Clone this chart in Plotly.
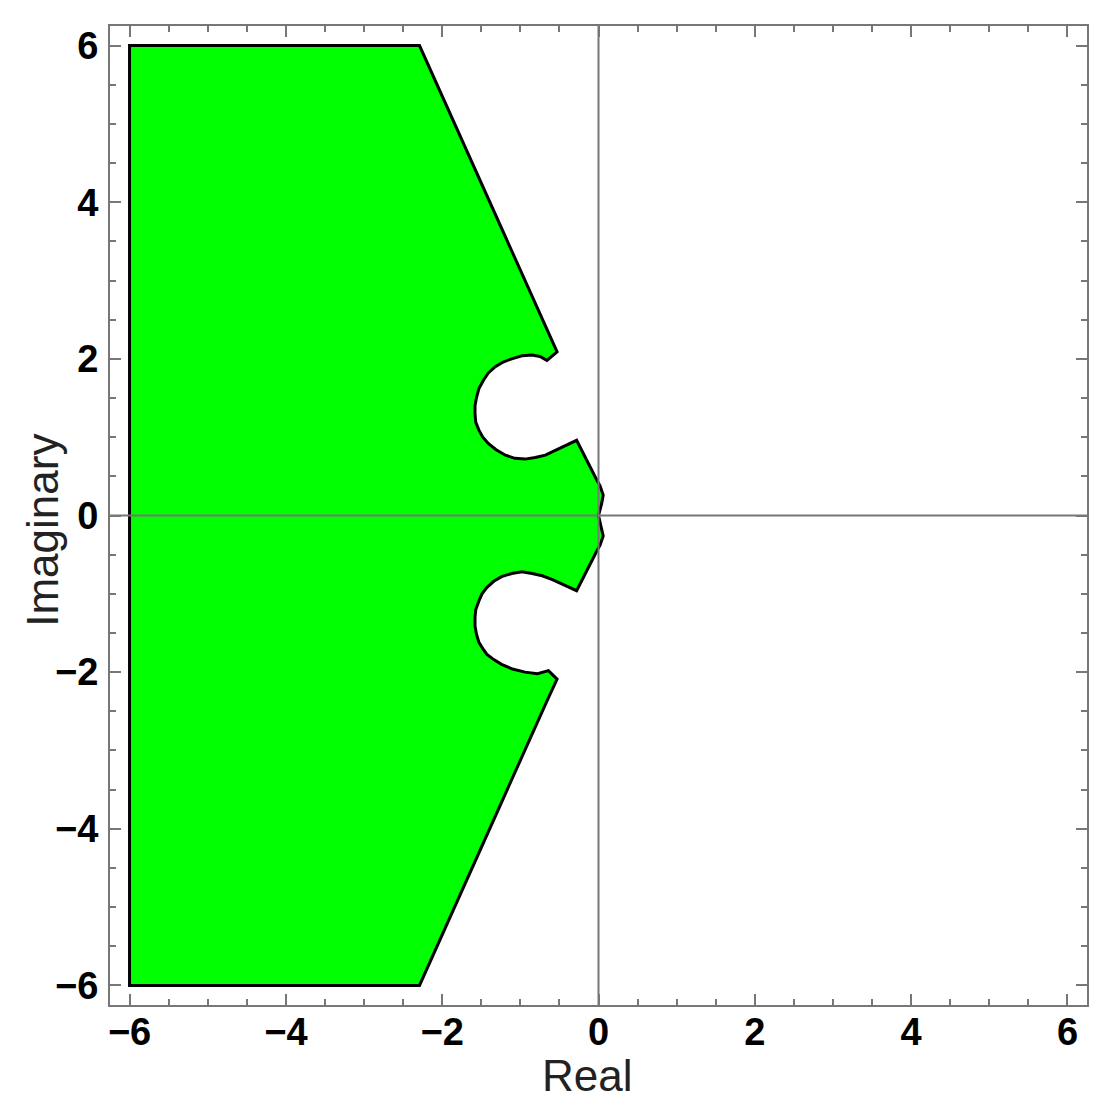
import plotly.graph_objects as go

# boundary of the shaded region (upper part, top-left corner -> origin)
upper_x = [-6.0, -6.0, -2.29, -0.66, -0.53, -0.66, -0.75, -0.85, -0.98, -1.11, -1.22, -1.32,
           -1.41, -1.47, -1.53, -1.56, -1.58, -1.58, -1.57, -1.53, -1.48, -1.41, -1.31, -1.19,
           -1.07, -0.94, -0.81, -0.68, -0.57, -0.47, -0.37, -0.28, -0.02, 0.02, 0.06, 0.04, 0.0]
upper_y = [0.0, 6.0, 6.0, 2.37, 2.09, 1.98, 2.03, 2.05, 2.04, 2.00, 1.96, 1.90,
           1.82, 1.73, 1.62, 1.51, 1.40, 1.30, 1.19, 1.09, 1.00, 0.92, 0.84, 0.77,
           0.73, 0.72, 0.74, 0.77, 0.82, 0.87, 0.92, 0.96, 0.45, 0.38, 0.26, 0.15, 0.0]

# lower part, origin -> bottom-left corner
lower_x = [0.04, 0.06, 0.02, -0.02, -0.28, -0.37, -0.47, -0.59, -0.72, -0.85, -0.98, -1.11,
           -1.24, -1.34, -1.43, -1.49, -1.53, -1.57, -1.58, -1.58, -1.56, -1.53, -1.48, -1.43,
           -1.34, -1.24, -1.10, -0.94, -0.78, -0.64, -0.53, -0.66, -2.29, -6.0, -6.0]
lower_y = [-0.15, -0.26, -0.38, -0.45, -0.96, -0.92, -0.87, -0.82, -0.77, -0.74, -0.72, -0.74,
           -0.78, -0.84, -0.92, -1.00, -1.09, -1.20, -1.30, -1.41, -1.52, -1.62, -1.70, -1.77,
           -1.84, -1.90, -1.96, -2.00, -2.02, -1.98, -2.09, -2.37, -6.0, -6.0, 0.0]

x_ticks = [-6, -4, -2, 0, 2, 4, 6]
y_ticks = [-6, -4, -2, 0, 2, 4, 6]

GRAY = '#777777'

fig = go.Figure()

fig.add_trace(go.Scatter(
    x=upper_x + lower_x,
    y=upper_y + lower_y,
    mode='lines',
    fill='toself',
    fillcolor='#00FF00',
    line=dict(color='black', width=3),
    hoverinfo='skip',
    showlegend=False
))

# axes through the origin, drawn over the fill
fig.add_shape(type='line', xref='paper', yref='y', x0=0, x1=1, y0=0, y1=0,
              line=dict(color=GRAY, width=2), layer='above')
fig.add_shape(type='line', xref='x', yref='paper', x0=0, x1=0, y0=0, y1=1,
              line=dict(color=GRAY, width=2), layer='above')

axis_style = dict(
    showgrid=False,
    zeroline=False,
    showline=True,
    linecolor=GRAY,
    linewidth=2,
    mirror='ticks',
    ticks='inside',
    ticklen=11,
    tickwidth=2,
    tickcolor=GRAY,
    minor=dict(ticks='inside', ticklen=6, tickwidth=2, tickcolor=GRAY, dtick=0.5),
    tickfont=dict(family='Liberation Sans', size=38, color='black', weight='bold'),
    range=[-6.25, 6.25],
    automargin=False,
)

fig.update_xaxes(**axis_style, tickvals=x_ticks, ticklabelstandoff=-8)
fig.update_yaxes(**axis_style, tickvals=y_ticks, ticklabelstandoff=2)

title_font = dict(family='Liberation Sans', size=44, color='#222222')
fig.add_annotation(text='Real', xref='paper', yref='paper', x=0.489, y=-0.072,
                   showarrow=False, font=title_font, xanchor='center', yanchor='middle')
fig.add_annotation(text='Imaginary', xref='paper', yref='paper', x=-0.069, y=0.485,
                   showarrow=False, font=title_font, textangle=-90,
                   xanchor='center', yanchor='middle')

fig.update_layout(
    width=1110,
    height=1113,
    margin=dict(l=102, r=31, t=18, b=116),
    plot_bgcolor='white',
    paper_bgcolor='white',
)

fig.write_html("out.html")
